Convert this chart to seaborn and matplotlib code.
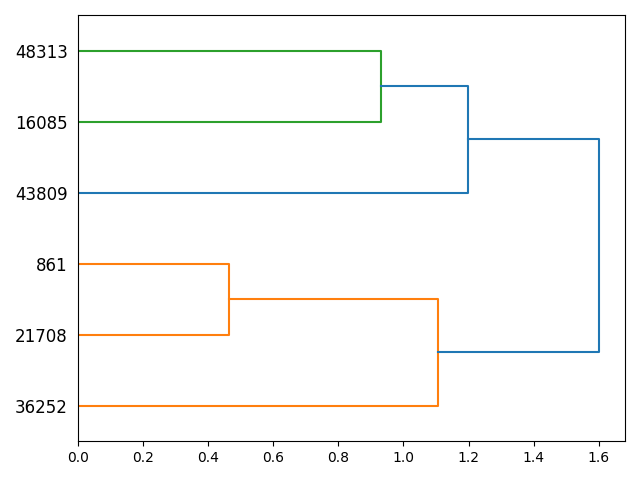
"""
Horizontal dendrogram (root on the right, leaves on the left).
"""

import matplotlib
matplotlib.use("Agg")
import seaborn as sns
import matplotlib.pyplot as plt

# ---------------------------
# Data: leaves (bottom to top) and merges
# ---------------------------
leaf_labels = ["36252", "21708", "861", "43809", "16085", "48313"]
merge_left = [1, 4, 0, 3, 8]
merge_right = [2, 5, 6, 7, 9]
merge_height = [0.464, 0.931, 1.105, 1.197, 1.600]

n = len(leaf_labels)
palette = sns.color_palette("tab10")
threshold = 0.7 * max(merge_height)

# ---------------------------
# Walk the tree: leaf positions and link shapes
# ---------------------------
links = []  # (xs, ys, color)
leaf_pos = {}
color_counter = [0]


def walk(node, color=None):
    if node < n:
        y = 5 + 10 * len(leaf_pos)
        leaf_pos[node] = y
        return y, 0.0
    i = node - n
    h = merge_height[i]
    if color is None and h < threshold:
        color_counter[0] += 1
        color = palette[color_counter[0]]
    y_l, x_l = walk(merge_left[i], color)
    y_r, x_r = walk(merge_right[i], color)
    links.append(([x_l, h, h, x_r], [y_l, y_l, y_r, y_r], color or palette[0]))
    return (y_l + y_r) / 2, h


walk(n + len(merge_height) - 1)

# ---------------------------
# Plot
# ---------------------------
fig, ax = plt.subplots(figsize=(6.4, 4.8), dpi=100)
for xs, ys, c in links:
    sns.lineplot(x=xs, y=ys, sort=False, estimator=None, color=c,
                 linewidth=1.5, ax=ax)

ax.set_xlim(0, max(merge_height) * 1.05)
ax.set_ylim(0, 10 * n)
ax.set_yticks([leaf_pos[k] for k in range(n)])
ax.set_yticklabels(leaf_labels, fontsize=12)
for line in ax.get_yticklines():
    line.set_visible(False)
ax.xaxis.set_ticks_position("bottom")

plt.tight_layout()
plt.savefig("out.png")
